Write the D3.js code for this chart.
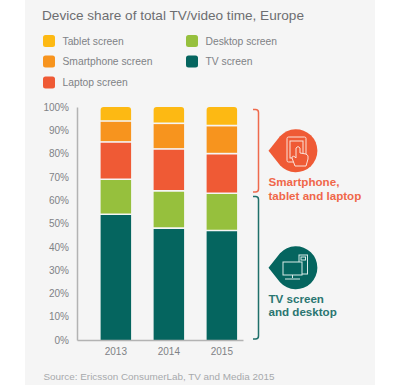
<!DOCTYPE html>
<html>
<head>
<meta charset="utf-8">
<script src="https://cdnjs.cloudflare.com/ajax/libs/d3/7.8.5/d3.min.js"></script>
<style>
  html, body { margin: 0; padding: 0; background: #fff; }
  svg { display: block; font-family: 'Liberation Sans', Arial, sans-serif; }
</style>
</head>
<body>
<div id="chart"></div>
<script>
const years = ['2013', '2014', '2015'];
const deviceKeys = ['tv', 'desktop', 'laptop', 'smartphone', 'tablet'];
const tvValues = [54, 48, 47];
const desktopValues = [15, 16, 16];
const laptopValues = [16, 18, 17];
const smartphoneValues = [9, 11, 12];
const tabletValues = [6, 7, 8];
const yTicks = [0, 10, 20, 30, 40, 50, 60, 70, 80, 90, 100];

const colors = {tablet: '#fdb913', smartphone: '#f7941e', laptop: '#ef5a35', desktop: '#96c03d', tv: '#05655f'};
const legendItems = [
  {key: 'tablet', label: 'Tablet screen', x: 43, y: 41},
  {key: 'smartphone', label: 'Smartphone screen', x: 43, y: 61.5},
  {key: 'laptop', label: 'Laptop screen', x: 43, y: 82.5},
  {key: 'desktop', label: 'Desktop screen', x: 186, y: 41},
  {key: 'tv', label: 'TV screen', x: 186, y: 61.5}
];

const width = 400;
const height = 385;
const margin = {top: 107, bottom: 45, left: 77, right: 157};

const rows = years.map((year, i) => ({
  year,
  tv: tvValues[i],
  desktop: desktopValues[i],
  laptop: laptopValues[i],
  smartphone: smartphoneValues[i],
  tablet: tabletValues[i]
}));

const svg = d3.select('#chart')
  .append('svg')
    .attr('width', width)
    .attr('height', height);

// soft grey panel behind everything
svg.append('rect')
    .attr('x', 25)
    .attr('width', 350)
    .attr('height', height)
    .attr('fill', '#f5f5f5');

svg.append('text')
    .text('Device share of total TV/video time, Europe')
    .attr('x', 42)
    .attr('y', 19.5)
    .attr('font-size', 13.6)
    .attr('fill', '#6d6e71');

const legend = svg.append('g')
  .selectAll('g')
  .data(legendItems)
  .join('g')
    .attr('transform', d => `translate(${d.x}, ${d.y})`);

legend.append('rect')
    .attr('y', -6)
    .attr('width', 12)
    .attr('height', 12)
    .attr('rx', 2.5)
    .attr('fill', d => colors[d.key]);

legend.append('text')
    .text(d => d.label)
    .attr('x', 19.5)
    .attr('y', 3.8)
    .attr('font-size', 10.3)
    .attr('fill', '#808285');

const x = d3.scaleBand()
  .domain(years)
  .range([margin.left, width - margin.right])
  .paddingInner(0.425)
  .paddingOuter(0.2785)
  .align(0.8);

const y = d3.scaleLinear()
  .domain([0, 100])
  .range([height - margin.bottom, margin.top]);

const series = d3.stack().keys(deviceKeys)(rows);

svg.append('g')
  .selectAll('g')
  .data(series)
  .join('g')
    .attr('fill', d => colors[d.key])
  .selectAll('path')
  .data(d => d)
  .join('path')
    .attr('d', function(d) {
      const key = d3.select(this.parentNode).datum().key;
      const x0 = x(d.data.year);
      const x1 = x0 + x.bandwidth();
      const top = y(d[1]) + (key === 'tablet' ? 0 : 0.8);
      const bottom = y(d[0]) - (key === 'tv' ? 0 : 0.8);
      if (key === 'tablet') {
        const r = 3;
        return `M${x0},${bottom}V${top + r}Q${x0},${top} ${x0 + r},${top}H${x1 - r}Q${x1},${top} ${x1},${top + r}V${bottom}Z`;
      }
      return `M${x0},${bottom}V${top}H${x1}V${bottom}Z`;
    });

const yAxis = svg.append('g')
    .attr('transform', `translate(${margin.left}, 0)`)
    .call(d3.axisLeft(y).tickValues(yTicks).tickFormat(d => d + '%').tickSize(0).tickPadding(8));

const xAxis = svg.append('g')
    .attr('transform', `translate(0, ${height - margin.bottom})`)
    .call(d3.axisBottom(x).tickSize(0).tickPadding(8));

[yAxis, xAxis].forEach(axis => {
  axis.select('.domain').attr('stroke', '#b3b3b3').attr('stroke-width', 1.5);
  axis.selectAll('text')
      .attr('font-family', "'Liberation Sans', Arial, sans-serif")
      .attr('font-size', 10)
      .attr('fill', '#808285');
});

// brackets on the right
const bracket = (y0, y1, color) => {
  svg.append('path')
      .attr('d', `M253,${y0}H255.5Q258.5,${y0} 258.5,${y0 + 3}V${y1 - 3}Q258.5,${y1} 255.5,${y1}H253`)
      .attr('fill', 'none')
      .attr('stroke', color)
      .attr('stroke-width', 1.5);
};
bracket(109.5, 192, '#ef6a4c');
bracket(196.5, 339, '#1f6f6a');

const drop = (cy, color) => {
  svg.append('path')
      .attr('d', `M268.5,${cy}L280,${cy - 14.5}A21.5,21.5 0 1 1 280,${cy + 14.5}Z`)
      .attr('fill', color);
};
drop(150.7, '#ef5a35');
drop(267.7, '#05655f');

// tablet and hand icon
const touch = svg.append('g')
    .attr('fill', 'none')
    .attr('stroke', '#fbe3da')
    .attr('stroke-width', 1);
touch.append('rect').attr('x', 287).attr('y', 137).attr('width', 19).attr('height', 25).attr('rx', 1.5);
touch.append('rect').attr('x', 290).attr('y', 141).attr('width', 13).attr('height', 17);
touch.append('path')
    .attr('d', 'M295,166L292,158Q292,155 295,157L296,158V148Q298,145 300,148V153L306,154Q309,155 308,159L306,166Z')
    .attr('fill', '#ef5a35');

// monitor and tower icon
const screen = svg.append('g')
    .attr('fill', 'none')
    .attr('stroke', '#d9ebe8')
    .attr('stroke-width', 1);
screen.append('rect').attr('x', 299).attr('y', 255).attr('width', 8.5).attr('height', 19);
screen.append('rect').attr('x', 301).attr('y', 257).attr('width', 4.5).attr('height', 3);
screen.append('rect').attr('x', 283).attr('y', 262).attr('width', 19).attr('height', 13).attr('fill', '#05655f');
screen.append('path').attr('d', 'M292.5,275V278M285,279H300');

const calloutText = (lines, y0, color) => {
  svg.append('g')
    .selectAll('text')
    .data(lines)
    .join('text')
      .text(d => d)
      .attr('x', 268.5)
      .attr('y', (d, i) => y0 + i * 13.7)
      .attr('font-size', 11.6)
      .attr('font-weight', 'bold')
      .attr('fill', color);
};
calloutText(['Smartphone,', 'tablet and laptop'], 186, '#f0674a');
calloutText(['TV screen', 'and desktop'], 302.5, '#2a7671');

svg.append('text')
    .text('Source: Ericsson ConsumerLab, TV and Media 2015')
    .attr('x', 43.5)
    .attr('y', 380)
    .attr('font-size', 9.9)
    .attr('fill', '#a7a9ac');
</script>
</body>
</html>
